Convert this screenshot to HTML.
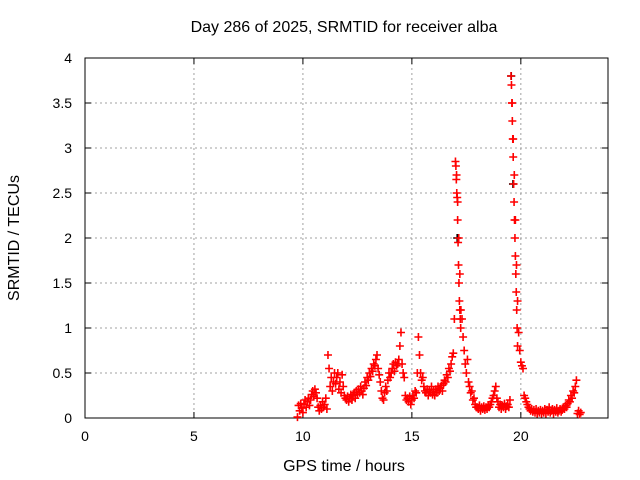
<!DOCTYPE html>
<html><head><meta charset="utf-8"><style>
body{margin:0;background:#fff}
svg{display:block;font-family:"Liberation Sans",sans-serif;font-size:14px}
</style></head><body>
<svg id="chart" width="640" height="480" viewBox="0 0 640 480">
<rect width="640" height="480" fill="#fff"/>
<g id="grid"></g>
<g id="axes"></g>
<g id="marks"></g>
<text x="344" y="32" text-anchor="middle" font-size="16">Day 286 of 2025, SRMTID for receiver alba</text>
<text x="344" y="471" text-anchor="middle" font-size="16">GPS time / hours</text>
<text transform="translate(19,238) rotate(-90)" text-anchor="middle" font-size="16">SRMTID / TECUs</text>
</svg>
<script>
const xTicks=[0,5,10,15,20];
const yTicks=[0,0.5,1,1.5,2,2.5,3,3.5,4];
const yTickLabels=["0","0.5","1","1.5","2","2.5","3","3.5","4"];
const seriesStart=9.75, seriesStep=0.05;
const seriesValues=[0.01,0.14,0.08,0.16,0.11,
0.06,0.15,0.2,0.12,0.18,0.22,0.14,0.2,0.26,0.3,0.24,0.32,0.28,0.22,0.12,0.08,0.14,0.1,0.18,0.12,
0.15,0.22,0.1,0.7,0.55,0.35,0.45,0.3,0.4,0.5,0.38,0.45,0.5,0.32,0.4,0.28,0.48,0.35,0.25,0.22,
0.2,0.24,0.18,0.22,0.26,0.2,0.25,0.28,0.22,0.3,0.26,0.32,0.28,0.35,0.3,0.26,0.33,0.4,0.36,0.45,
0.42,0.5,0.46,0.55,0.52,0.6,0.58,0.65,0.7,0.55,0.48,0.4,0.3,0.22,0.2,0.28,0.35,0.3,0.42,0.5,
0.45,0.5,0.55,0.6,0.52,0.62,0.58,0.6,0.65,0.8,0.95,0.6,0.5,0.45,0.25,0.2,0.22,0.18,0.24,0.15,
0.2,0.25,0.22,0.3,0.28,0.5,0.9,0.7,0.5,0.42,0.45,0.35,0.3,0.28,0.32,0.25,0.3,0.28,0.35,0.26,
0.3,0.25,0.32,0.28,0.35,0.3,0.33,0.36,0.3,0.38,0.42,0.4,0.48,0.45,0.55,0.52,0.6,0.68,0.72,1.1,
2.85,2.7,2.4,2.0,1.6,1.2,1.1,0.9,0.75,0.6,0.5,0.65,0.4,0.35,0.28,0.3,0.2,0.22,0.15,0.12,
0.12,0.1,0.14,0.08,0.12,0.1,0.13,0.09,0.12,0.1,0.14,0.12,0.15,0.18,0.22,0.25,0.3,0.35,0.22,0.18,
0.12,0.15,0.1,0.14,0.12,0.16,0.1,0.13,0.15,0.12,0.2,3.8,3.5,3.1,2.7,2.2,1.7,1.3,0.95,0.75,
0.62,0.58,0.55,0.25,0.22,0.18,0.15,0.12,0.1,0.08,0.1,0.07,0.09,0.06,0.1,0.05,0.08,0.06,0.09,0.05,
0.08,0.06,0.1,0.05,0.09,0.07,0.12,0.06,0.08,0.1,0.05,0.09,0.07,0.11,0.06,0.08,0.1,0.07,0.09,0.12,
0.1,0.14,0.12,0.16,0.2,0.18,0.25,0.22,0.3,0.28,0.35,0.42,0.05,0.08,0.04,0.06];
const peakTimes=[17.02,17.04,17.06,17.08,17.1,17.12,17.14,17.16,17.18,17.2,17.22,17.24,19.57,19.59,19.61,19.63,19.65,19.67,19.69,19.71,19.73,19.75,19.77,19.79,19.81,19.83,19.85];
const peakValues=[2.8,2.65,2.5,2.45,2.2,1.95,1.7,1.5,1.3,1.2,1.1,1.0,3.7,3.5,3.3,3.1,2.9,2.6,2.4,2.2,2.0,1.8,1.6,1.4,1.2,1.0,0.8];
const blackTimes=[17.08,19.56,19.64];
const blackValues=[2.0,3.8,2.6];
const X=t=>85+t*(523/24), Y=v=>418-v*90;
const NS="http://www.w3.org/2000/svg";
function mk(tag,attrs,parent){const e=document.createElementNS(NS,tag);for(const k in attrs)e.setAttribute(k,attrs[k]);parent.appendChild(e);return e;}
const grid=document.getElementById('grid'),axes=document.getElementById('axes'),marks=document.getElementById('marks');
mk('rect',{x:85,y:58,width:523,height:360,fill:'none',stroke:'#000','stroke-width':1},axes);
xTicks.forEach(t=>{
 if(t>0){const l=mk('line',{x1:X(t),x2:X(t),y1:58,y2:418,stroke:'#a0a0a0','stroke-dasharray':'2,3'},grid);
 
 }
 mk('line',{x1:X(t),x2:X(t),y1:418,y2:412,stroke:'#000'},axes);
 mk('line',{x1:X(t),x2:X(t),y1:58,y2:64,stroke:'#000'},axes);
 const tx=mk('text',{x:X(t),y:441,'text-anchor':'middle'},axes);tx.textContent=t;
 
 
});
yTicks.forEach((v,i)=>{
 if(v>0&&v<4){const l=mk('line',{x1:85,x2:608,y1:Y(v),y2:Y(v),stroke:'#a0a0a0','stroke-dasharray':'2,3'},grid);
 
 }
 mk('line',{x1:85,x2:91,y1:Y(v),y2:Y(v),stroke:'#000'},axes);
 mk('line',{x1:608,x2:602,y1:Y(v),y2:Y(v),stroke:'#000'},axes);
 const tx=mk('text',{x:72,y:Y(v)+5,'text-anchor':'end'},axes);tx.textContent=yTickLabels[i];
 
 
});
function plus(t,v,color){
 const x=X(t),y=Y(v);
 const p=mk('path',{d:`M${x-4} ${y}h8M${x} ${y-4}v8`,stroke:color,'stroke-width':1.6,fill:'none'},marks);
 
 
}
blackValues.forEach((v,i)=>plus(blackTimes[i],v,'#000'));
seriesValues.forEach((v,i)=>plus(seriesStart+i*seriesStep,v,'#f00'));
peakValues.forEach((v,i)=>plus(peakTimes[i],v,'#f00'));
</script>
</body></html>
